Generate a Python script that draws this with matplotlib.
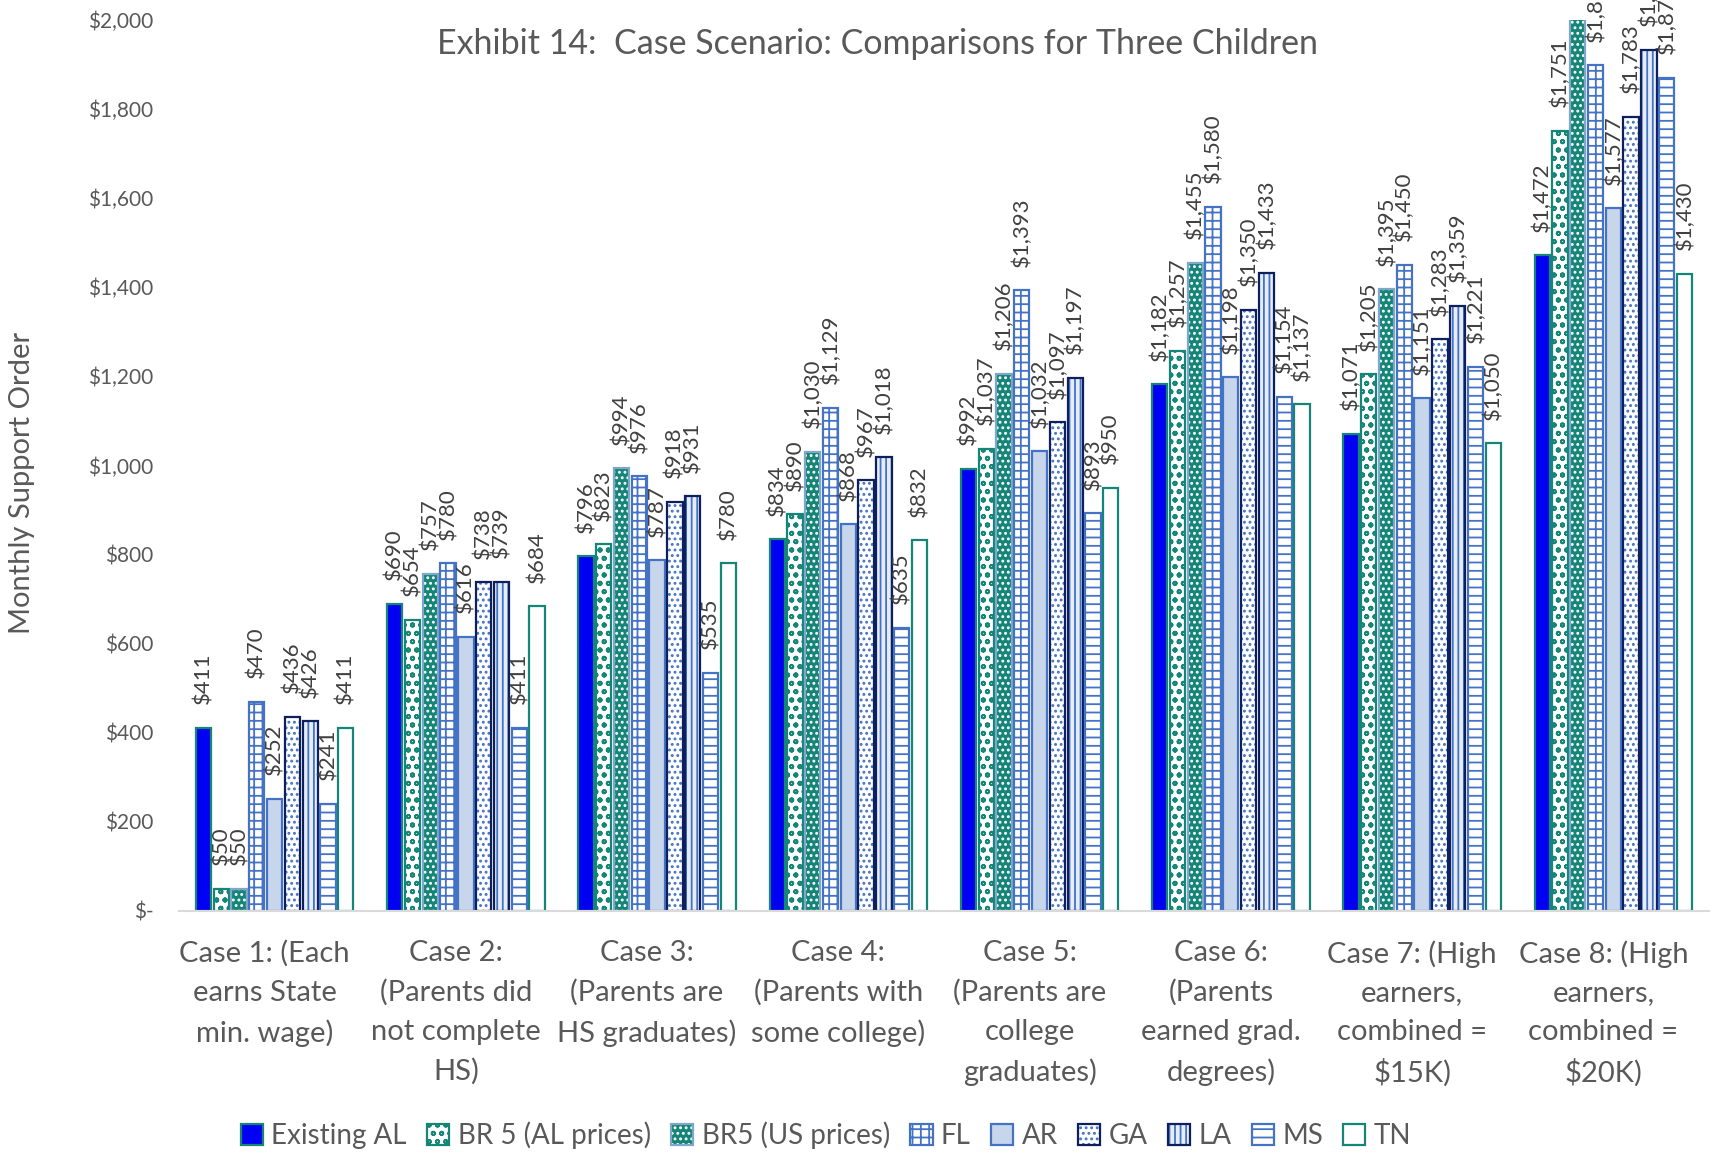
import numpy as np
import matplotlib.pyplot as plt
import matplotlib.transforms as mtransforms
from matplotlib.ticker import FuncFormatter

plt.rcParams['font.family'] = ['Lato', 'DejaVu Sans']
plt.rcParams['hatch.linewidth'] = 1.3

cases = ["Case 1: (Each\nearns State\nmin. wage)",
         "Case 2:\n(Parents did\nnot complete\nHS)",
         "Case 3:\n(Parents are\nHS graduates)",
         "Case 4:\n(Parents with\nsome college)",
         "Case 5:\n(Parents are\ncollege\ngraduates)",
         "Case 6:\n(Parents\nearned grad.\ndegrees)",
         "Case 7: (High\nearners,\ncombined =\n$15K)",
         "Case 8: (High\nearners,\ncombined =\n$20K)"]

series_names = ["Existing AL", "BR 5 (AL prices)", "BR5 (US prices)", "FL", "AR",
                "GA", "LA", "MS", "TN"]

existing_al = [411, 690, 796, 834, 992, 1182, 1071, 1472]
br5_al = [50, 654, 823, 890, 1037, 1257, 1205, 1751]
br5_us = [50, 757, 994, 1030, 1206, 1455, 1395, 2045]
fl = [470, 780, 976, 1129, 1393, 1580, 1450, 1898]
ar = [252, 616, 787, 868, 1032, 1198, 1151, 1577]
ga = [436, 738, 918, 967, 1097, 1350, 1283, 1783]
la = [426, 739, 931, 1018, 1197, 1433, 1359, 1933]
ms = [241, 411, 535, 635, 893, 1154, 1221, 1870]
tn = [411, 684, 780, 832, 950, 1137, 1050, 1430]

all_values = [existing_al, br5_al, br5_us, fl, ar, ga, la, ms, tn]

teal = '#148577'
blue = '#4472C4'
navy = '#0E1F5E'
# face, hatch, hatch colour, outline
styles = [
    ('#0000F2', None, '#0000F2', teal),
    ('white', 'oo', teal, teal),
    (teal, '...', 'white', '#7FA7C9'),
    ('white', '++', blue, blue),
    ('#C8D6EC', None, '#C8D6EC', blue),
    ('white', '...', blue, navy),
    ('#E6EDF8', '|||', blue, navy),
    ('white', '--', blue, blue),
    ('white', None, 'white', teal),
]

ymax = 2000
text_gray = '#595959'

fig = plt.figure(figsize=(17.21, 11.54), dpi=100)
ax = fig.add_axes([0.104, 0.2106, 0.889, 0.7721])

x = np.arange(len(cases))
n = len(series_names)
slot = 0.093
width = 0.08
handles = []
for i, (vals, st) in enumerate(zip(all_values, styles)):
    face, hatch, hcolor, edge = st
    pos = x + (i - (n - 1) / 2) * slot
    fill = ax.bar(pos, vals, width, color=face, hatch=hatch, edgecolor=hcolor, linewidth=0)
    outline = ax.bar(pos, vals, width, fill=False, edgecolor=edge, linewidth=1.6)
    handles.append((fill[0], outline[0]))
    for xp, v in zip(pos, vals):
        if v <= ymax:
            ax.annotate(f"${v:,}", (xp, v), xytext=(0, 17), textcoords='offset points',
                        rotation=90, ha='center', va='bottom', fontsize=16, color='#404040')

ax.set_xlim(-0.5, len(cases) - 0.5)
ax.set_ylim(0, ymax)
ax.set_yticks(range(0, ymax + 1, 200))
ax.yaxis.set_major_formatter(FuncFormatter(lambda v, p: "$-" if v == 0 else f"${v:,.0f}"))
ax.set_xticks(x)
ax.set_xticklabels(cases, fontsize=21, color=text_gray, linespacing=1.6, va='top')
ax.tick_params(axis='x', length=0, pad=21)
ax.tick_params(axis='y', length=0, labelsize=15, labelcolor=text_gray, pad=18.5)
# category labels sit slightly left of the bar groups
shift = mtransforms.ScaledTranslation(-0.1, 0, fig.dpi_scale_trans)
for lbl in ax.get_xticklabels():
    lbl.set_transform(lbl.get_transform() + shift)
for side in ['left', 'right', 'top']:
    ax.spines[side].set_visible(False)
ax.spines['bottom'].set_color('#D9D9D9')
ax.spines['bottom'].set_linewidth(1.5)

fig.text(0.51, 0.962, "Exhibit 14:  Case Scenario: Comparisons for Three Children",
         ha='center', va='center', fontsize=24.5, color=text_gray)
fig.text(0.013, 0.5815, "Monthly Support Order", rotation=90, ha='center', va='center',
         fontsize=21, color=text_gray)

ax.legend(handles, series_names, loc='center', bbox_to_anchor=(0.48, 0.016),
          bbox_transform=fig.transFigure, ncol=9, frameon=False, fontsize=20,
          handlelength=0.8, handleheight=0.8, handletextpad=0.3, columnspacing=0.73,
          labelcolor=text_gray)

fig.savefig('out.png', dpi=100)
